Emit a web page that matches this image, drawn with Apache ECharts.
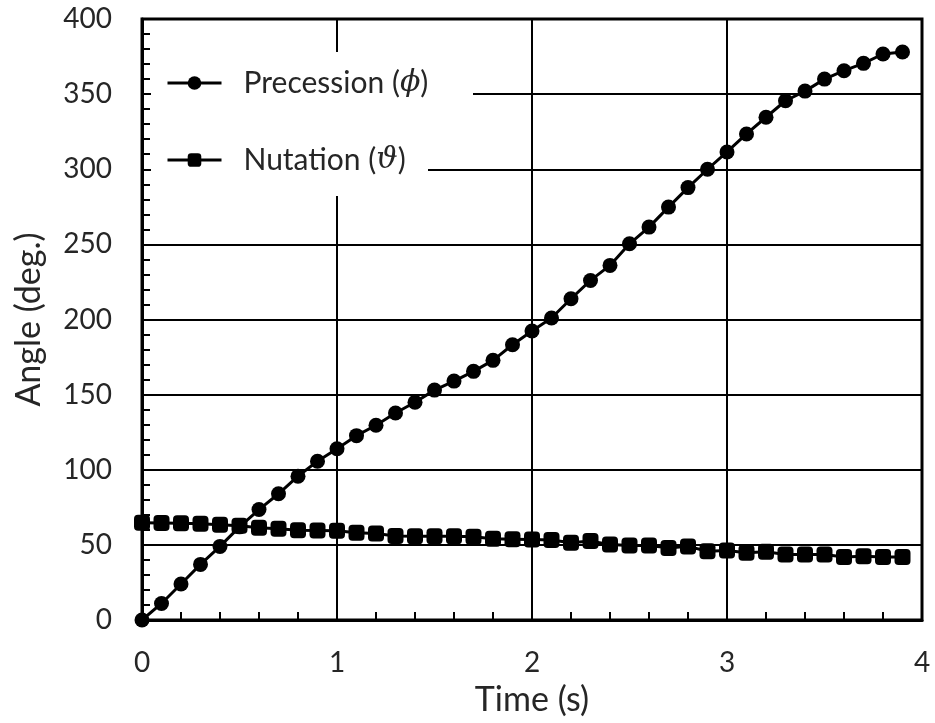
<!DOCTYPE html>
<html>
<head>
<meta charset="utf-8">
<script src="https://cdn.jsdelivr.net/npm/echarts@6/dist/echarts.min.js"></script>
<style>html,body{margin:0;padding:0;background:#fff;}#c{width:935px;height:723px;}</style>
</head>
<body>
<div id="c"></div>
<script>
const time = [0,0.1,0.2,0.3,0.4,0.5,0.6,0.7,0.8,0.9,1.0,1.1,1.2,1.3,1.4,1.5,1.6,1.7,1.8,1.9,2.0,2.1,2.2,2.3,2.4,2.5,2.6,2.7,2.8,2.9,3.0,3.1,3.2,3.3,3.4,3.5,3.6,3.7,3.8,3.9];
const precession = [0,11,24,37,49,62,73.5,84,95.7,105.7,114,122.7,129.6,137.8,144.9,153,159,165.5,172.8,183.2,192.3,201,213.8,226,236,250.4,261.5,274.8,287.8,300,311.5,323.5,334.6,345.6,352,360,365.6,370.5,376.7,378];
const nutation = [64.7,64.6,64.4,64,63.4,62.8,61.4,60.7,59.8,59.6,59.4,58,57.6,55.9,55.8,55.8,55.8,55.4,54,53.8,53.6,53.3,51.4,52.5,50.3,49.6,49.6,48,49,45.8,46.3,44.7,45.4,43.6,43.6,43.6,42,42.4,42,42];
const xTicks = {min:0, max:4, interval:1};
const yTicks = {min:0, max:400, interval:50};
const seriesNames = ['Precession', 'Nutation'];
const greek = {Precession:'ϕ', Nutation:'ϑ'};

const FONT = 'Lato, "Open Sans", "DejaVu Sans", sans-serif';
const TXT = '#262626';
const chart = echarts.init(document.getElementById('c'), null, {renderer:'canvas'});
chart.setOption({
  backgroundColor:'#fff',
  animation:false,
  grid:{left:142, right:13, top:19, bottom:103, show:true, borderColor:'#000', borderWidth:3, backgroundColor:'transparent'},
  graphic:[
    {type:'rect', z:3, shape:{x:151, y:52, width:322, height:100}, style:{fill:'#fff'}},
    {type:'rect', z:3, shape:{x:151, y:150, width:277, height:46}, style:{fill:'#fff'}}
  ],
  legend:{
    orient:'vertical', left:166, top:65, padding:0, itemGap:41,
    itemWidth:54, itemHeight:17, z:5,
    lineStyle:{width:3},
    data: seriesNames,
    formatter: n => n + ' ({g|' + greek[n] + '})',
    textStyle:{fontSize:30, color:TXT, fontFamily:FONT, padding:[0,0,0,17], lineHeight:36,
      rich:{g:{fontSize:30, fontStyle:'italic', fontFamily:'"DejaVu Serif", serif', color:TXT, lineHeight:36}}}
  },
  xAxis:{
    type:'value', min:xTicks.min, max:xTicks.max, interval:xTicks.interval,
    name:'Time (s)', nameLocation:'middle', nameGap:63,
    nameTextStyle:{fontSize:34, color:TXT, fontFamily:FONT},
    axisLine:{show:true, onZero:false, lineStyle:{color:'#000', width:3}},
    axisTick:{show:true, inside:true, length:8, lineStyle:{color:'#000', width:2}},
    minorTick:{show:true, splitNumber:5, length:8, lineStyle:{color:'#000', width:2}},
    axisLabel:{fontSize:28, color:TXT, margin:29, fontFamily:FONT},
    splitLine:{show:true, lineStyle:{color:'#000', width:2}}
  },
  yAxis:{
    type:'value', min:yTicks.min, max:yTicks.max, interval:yTicks.interval,
    name:'Angle (deg.)', nameLocation:'middle', nameGap:96,
    nameTextStyle:{fontSize:34, color:TXT, fontFamily:FONT},
    axisLine:{show:true, lineStyle:{color:'#000', width:3}},
    axisTick:{show:true, inside:true, length:8, lineStyle:{color:'#000', width:2}},
    minorTick:{show:true, splitNumber:5, length:8, lineStyle:{color:'#000', width:2}},
    axisLabel:{fontSize:28, color:TXT, margin:30, fontFamily:FONT},
    splitLine:{show:true, lineStyle:{color:'#000', width:2}}
  },
  series:[
    {name:seriesNames[0], type:'line', data:time.map((t,i)=>[t, precession[i]]),
     symbol:'circle', symbolSize:15, showAllSymbol:true, clip:false,
     lineStyle:{color:'#000', width:3}, itemStyle:{color:'#000'}, z:3},
    {name:seriesNames[1], type:'line', data:time.map((t,i)=>[t, nutation[i]]),
     symbol:'roundRect', symbolSize:16, showAllSymbol:true, clip:false,
     lineStyle:{color:'#000', width:3}, itemStyle:{color:'#000'}, z:4}
  ]
});
</script>
</body>
</html>
